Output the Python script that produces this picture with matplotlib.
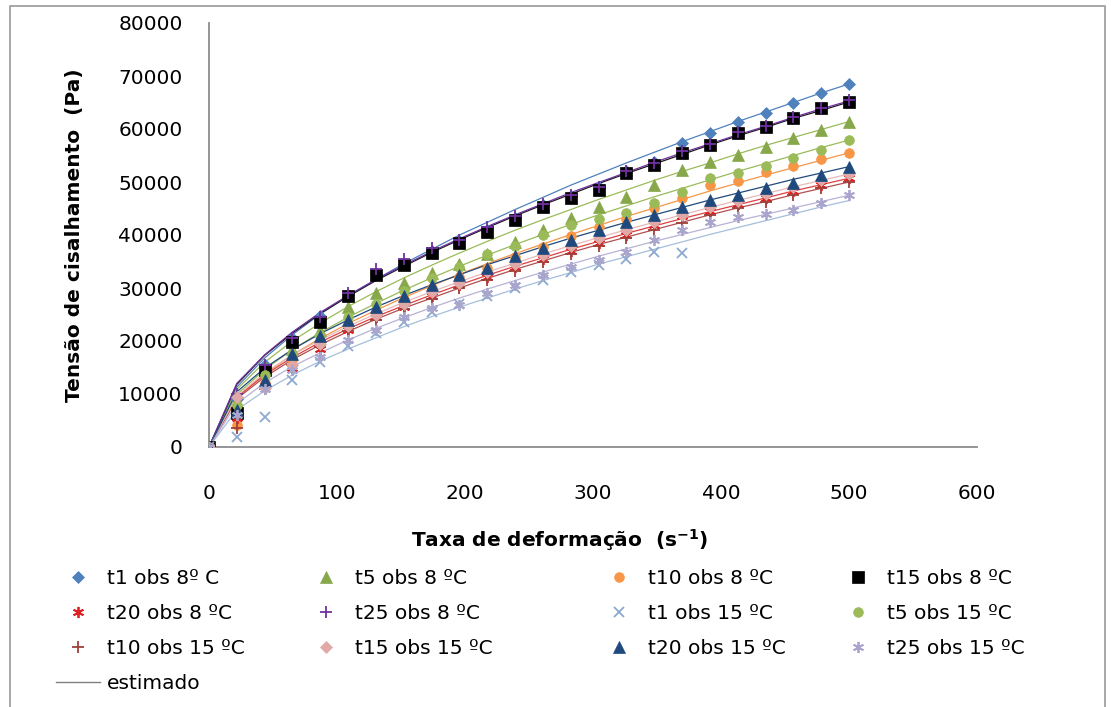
import numpy as np
import matplotlib
matplotlib.use("Agg")
import matplotlib.pyplot as plt
from matplotlib.lines import Line2D

plt.rcParams["font.family"] = ["DejaVu Sans"]
FS = 14.5

# taxa de deformação (s-1)
taxa = [0, 21.7, 43.5, 65.2, 87.0, 108.7, 130.4, 152.2, 173.9, 195.7, 217.4, 239.1,
        260.9, 282.6, 304.3, 326.1, 347.8, 369.6, 391.3, 413.0, 434.8, 456.5, 478.3, 500]

# observado (Pa)
t1_8_obs = [0, 9000, 15500, 20500, 24800, 28600, 32700, 34600, 36900, 38800, 41000, 43200,
            45700, 47400, 49000, 52000, 53800, 57300, 59200, 61400, 63000, 64900, 66700, 68500]
t5_8_obs = [0, 8500, 15000, 18500, 22000, 26500, 29000, 30900, 32800, 34500, 36500, 38700,
            40900, 43200, 45300, 47200, 49400, 52300, 53800, 55100, 56600, 58300, 59800, 61400]
t10_8_obs = [0, 4200, 12000, 16500, 19800, 23000, 25500, 28000, 30000, 32000, 33800, 35800,
             37800, 39800, 41500, 43000, 45000, 47000, 49400, 50200, 51800, 53000, 54300, 55500]
t15_8_obs = [0, 6400, 14500, 19900, 23600, 28400, 32500, 34300, 36600, 38500, 40600, 42800,
             45300, 47000, 48500, 51700, 53200, 55500, 57000, 59200, 60400, 62000, 63900, 65100]
t20_8_obs = [0, 5500, 11500, 14900, 18500, 22000, 24500, 26500, 28500, 30500, 32000, 34000,
             35500, 37000, 38500, 40000, 41800, 43500, 44500, 45800, 47000, 48300, 49500, 50700]
t25_8_obs = [0, 10000, 15500, 20500, 24500, 29000, 33500, 35500, 37500, 39000, 41500, 43500,
             45800, 47500, 49000, 52000, 53500, 55800, 57200, 59500, 60600, 62300, 64000, 65400]
t1_15_obs = [0, 1950, 5700, 12600, 16000, 19000, 21500, 23500, 25500, 27000, 28500, 30000,
             31500, 33000, 34300, 35500, 36800, 36600, np.nan, np.nan, np.nan, np.nan, np.nan, np.nan]
t5_15_obs = [0, 8000, 13500, 17500, 21000, 24500, 27000, 29500, 31800, 34000, 36500, 38000,
             40000, 41800, 43000, 44100, 46000, 48200, 50700, 51700, 53000, 54500, 56000, 57900]
t10_15_obs = [0, 3500, 11000, 15500, 18800, 21800, 24000, 26000, 28000, 30000, 31500, 33300,
              35000, 36500, 38000, 39500, 41000, 42300, 43800, 45000, 46300, 47600, 48800, 50000]
t15_15_obs = [0, 9500, 11100, 15500, 19500, 22800, 25000, 27000, 29300, 31000, 33000, 34500,
              36300, 38000, 39500, 41000, 42500, 43800, 45200, 46500, 47800, 49000, 50300, 51500]
t20_15_obs = [0, 7000, 12600, 17500, 21000, 24000, 26500, 28500, 30500, 32500, 33800, 36000,
              37500, 39000, 41000, 42500, 43800, 45300, 46600, 47500, 48900, 49800, 51300, 52900]
t25_15_obs = [0, 6000, 11000, 14500, 17000, 20200, 22000, 24500, 26300, 26800, 29000, 30500,
              32400, 34000, 35300, 36800, 39000, 40900, 42500, 43400, 44000, 44800, 46000, 47500]

# estimado (Pa)
t1_8_est = [0, 11300, 16800, 21200, 25100, 28500, 31600, 34600, 37300, 40000, 42400, 44800,
            47100, 49400, 51500, 53600, 55600, 57600, 59500, 61400, 63200, 65000, 66800, 68500]
t5_8_est = [0, 10900, 16000, 20000, 23400, 26500, 29300, 31900, 34300, 36600, 38800, 40900,
            42900, 44800, 46700, 48500, 50300, 52000, 53600, 55300, 56900, 58400, 59900, 61400]
t10_8_est = [0, 9300, 13800, 17400, 20500, 23300, 25800, 28200, 30400, 32600, 34600, 36500,
             38300, 40100, 41800, 43500, 45100, 46700, 48300, 49800, 51300, 52700, 54100, 55500]
t15_8_est = [0, 11800, 17300, 21500, 25200, 28400, 31400, 34100, 36700, 39100, 41400, 43600,
             45700, 47700, 49700, 51600, 53400, 55200, 57000, 58700, 60300, 62000, 63500, 65100]
t20_8_est = [0, 9400, 13600, 16900, 19800, 22300, 24600, 26700, 28700, 30600, 32400, 34100,
             35700, 37300, 38800, 40300, 41700, 43100, 44400, 45700, 47000, 48300, 49500, 50700]
t25_8_est = [0, 12000, 17400, 21700, 25400, 28600, 31600, 34300, 36900, 39300, 41600, 43800,
             45900, 48000, 49900, 51800, 53700, 55500, 57200, 58900, 60500, 62200, 63800, 65300]
t1_15_est = [0, 7000, 10600, 13600, 16200, 18500, 20600, 22700, 24600, 26400, 28100, 29800,
             31400, 32900, 34500, 35900, 37300, 38700, 40100, 41400, 42700, 44000, 45300, 46500]
t5_15_est = [0, 9900, 14600, 18400, 21600, 24500, 27100, 29600, 31900, 34100, 36200, 38200,
             40100, 42000, 43800, 45500, 47200, 48800, 50400, 52000, 53500, 55000, 56500, 57900]
t10_15_est = [0, 9100, 13200, 16500, 19300, 21800, 24100, 26200, 28100, 30000, 31800, 33500,
              35100, 36700, 38200, 39600, 41000, 42400, 43800, 45100, 46300, 47600, 48800, 50000]
t15_15_est = [0, 9600, 14000, 17400, 20200, 22800, 25100, 27300, 29300, 31200, 33000, 34700,
              36400, 38000, 39500, 41000, 42400, 43800, 45200, 46500, 47800, 49100, 50300, 51500]
t20_15_est = [0, 10400, 14900, 18400, 21400, 24000, 26400, 28600, 30600, 32500, 34400, 36100,
              37800, 39400, 40900, 42400, 43800, 45200, 46600, 47900, 49200, 50500, 51700, 52900]
t25_15_est = [0, 8200, 12100, 15200, 17800, 20200, 22400, 24400, 26300, 28100, 29800, 31400,
              33000, 34500, 36000, 37400, 38800, 40100, 41400, 42700, 43900, 45100, 46300, 47500]

labels = ["t1 obs 8º C", "t5 obs 8 ºC", "t10 obs 8 ºC", "t15 obs 8 ºC",
          "t20 obs 8 ºC", "t25 obs 8 ºC", "t1 obs 15 ºC", "t5 obs 15 ºC",
          "t10 obs 15 ºC", "t15 obs 15 ºC", "t20 obs 15 ºC", "t25 obs 15 ºC"]
obs = [t1_8_obs, t5_8_obs, t10_8_obs, t15_8_obs, t20_8_obs, t25_8_obs,
       t1_15_obs, t5_15_obs, t10_15_obs, t15_15_obs, t20_15_obs, t25_15_obs]
est = [t1_8_est, t5_8_est, t10_8_est, t15_8_est, t20_8_est, t25_8_est,
       t1_15_est, t5_15_est, t10_15_est, t15_15_est, t20_15_est, t25_15_est]

# estilo: (marcador, cor do marcador, cor da linha, tamanho)
AST = (6, 2, 0)
styles = [
    ("D", "#4F81BD", "#4F81BD", 6),
    ("^", "#86A84A", "#9BBB59", 8),
    ("o", "#F79646", "#F79646", 7),
    ("s", "#000000", "#1A1A1A", 8),
    (AST, "#E02020", "#E04040", 8),
    ("+", "#7030A0", "#7030A0", 9),
    ("x", "#8DA9CF", "#A5BEDC", 7),
    ("o", "#9BBB59", "#9BBB59", 7),
    ("+", "#A0403A", "#B05050", 9),
    ("D", "#E0A8A6", "#E6B9B8", 6),
    ("^", "#1F497D", "#1F497D", 8),
    (AST, "#A9A5CC", "#B8B2D6", 8),
]

fig = plt.figure(figsize=(11.11, 7.07), dpi=100)
ax = fig.add_axes([209 / 1111, 1 - 447 / 707, 768 / 1111, 424 / 707])

for e, (m, mc, lc, ms) in zip(est, styles):
    ax.plot(taxa, e, color=lc, lw=0.9, zorder=2)

handles = []
for o, lab, (m, mc, lc, ms) in zip(obs, labels, styles):
    filled = m not in ("+", "x", AST)
    ax.plot(taxa, o, ls="none", marker=m, ms=ms, color=mc,
            mew=1.3 if not filled else 0.5, zorder=3)
    handles.append(Line2D([], [], ls="none", marker=m, ms=ms, color=mc,
                          mew=1.3 if not filled else 0.5, label=lab))
est_handle = Line2D([], [], color="#808080", lw=1.0, label="estimado")

ax.set_xlim(0, 600)
ax.set_ylim(0, 80000)
ax.set_xticks(range(0, 601, 100))
ax.set_yticks(range(0, 80001, 10000))
ax.tick_params(length=0, labelsize=FS)
ax.tick_params(axis="y", pad=19)
ax.tick_params(axis="x", pad=27)
for s in ["top", "right"]:
    ax.spines[s].set_visible(False)
for s in ["left", "bottom"]:
    ax.spines[s].set_color("#8C8C8C")
    ax.spines[s].set_linewidth(1.3)

fig.text(560 / 1111, 1 - 540 / 707, "Taxa de deformação  (s$^{\\mathbf{-1}}$)",
         ha="center", va="center", fontsize=FS, fontweight="bold")
fig.text(75 / 1111, 1 - 235 / 707, "Tensão de cisalhamento  (Pa)", rotation=90,
         ha="center", va="center", fontsize=FS, fontweight="bold")

# legenda em 4 colunas
cols = [[handles[0], handles[4], handles[8], est_handle],
        [handles[1], handles[5], handles[9]],
        [handles[2], handles[6], handles[10]],
        [handles[3], handles[7], handles[11]]]
col_x = [56, 304, 597, 836]
for hs, cx in zip(cols, col_x):
    fig.legend(handles=hs, loc="upper left", bbox_to_anchor=(cx / 1111, 1 - 569 / 707),
               frameon=False, fontsize=FS, borderpad=0, borderaxespad=0,
               handlelength=2.2, handletextpad=0.35, labelspacing=0.8)

# moldura do gráfico (esquerda, topo, direita)
fig.add_artist(Line2D([10 / 1111, 10 / 1111, 1105 / 1111, 1105 / 1111],
                      [-0.05, 1 - 6 / 707, 1 - 6 / 707, -0.05],
                      transform=fig.transFigure, color="#A0A0A0", lw=1.3))

fig.savefig("out.png", dpi=100)
